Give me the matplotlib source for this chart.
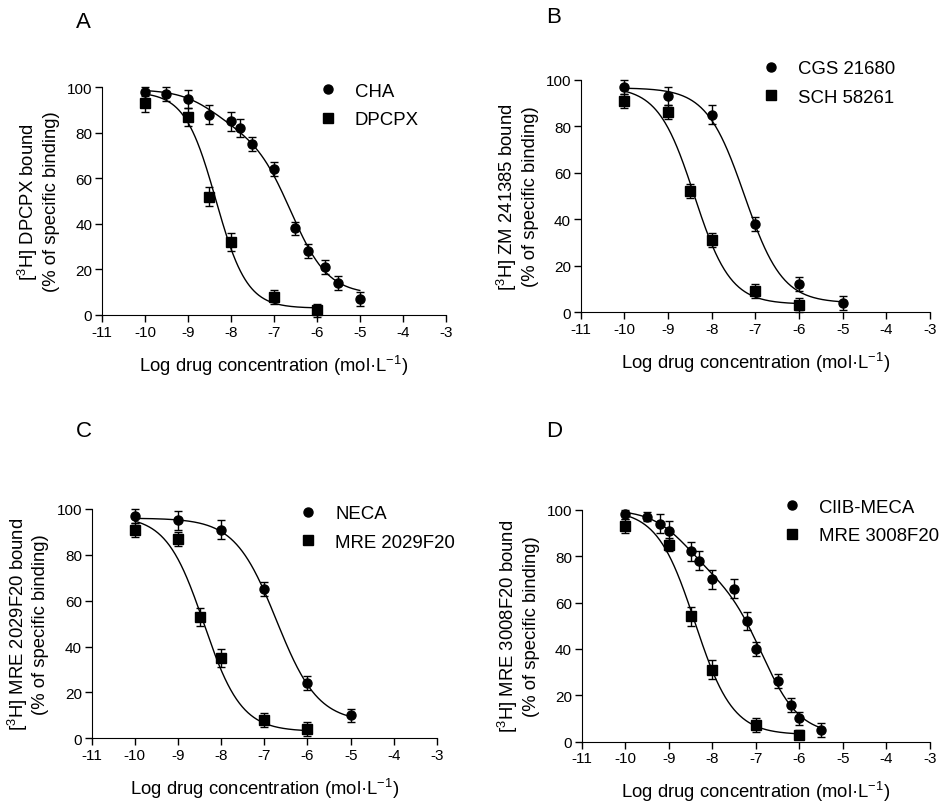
import numpy as np
import matplotlib.pyplot as plt

plt.rcParams['font.family'] = ['Liberation Sans', 'DejaVu Sans']
plt.rcParams['mathtext.default'] = 'regular'
plt.rcParams['axes.unicode_minus'] = False

# Panel A: [3H] DPCPX binding
a_cha_x = [-10, -9.5, -9, -8.5, -8, -7.8, -7.5, -7, -6.5, -6.2, -5.8, -5.5, -5]
a_cha_y = [98, 97, 95, 88, 85, 82, 75, 64, 38, 28, 21, 14, 7]
a_cha_err = [2, 3, 4, 4, 4, 4, 3, 3, 3, 3, 3, 3, 3]
a_dpcpx_x = [-10, -9, -8.5, -8, -7, -6]
a_dpcpx_y = [93, 87, 52, 32, 8, 2]
a_dpcpx_err = [4, 4, 4, 4, 3, 3]

# Panel B: [3H] ZM 241385 binding
b_cgs_x = [-10, -9, -8, -7, -6, -5]
b_cgs_y = [97, 93, 85, 38, 12, 4]
b_cgs_err = [3, 4, 4, 3, 3, 3]
b_sch_x = [-10, -9, -8.5, -8, -7, -6]
b_sch_y = [91, 86, 52, 31, 9, 3]
b_sch_err = [3, 3, 3, 3, 3, 3]

# Panel C: [3H] MRE 2029F20 binding
c_neca_x = [-10, -9, -8, -7, -6, -5]
c_neca_y = [97, 95, 91, 65, 24, 10]
c_neca_err = [3, 4, 4, 3, 3, 3]
c_mre_x = [-10, -9, -8.5, -8, -7, -6]
c_mre_y = [91, 87, 53, 35, 8, 4]
c_mre_err = [3, 3, 4, 4, 3, 3]

# Panel D: [3H] MRE 3008F20 binding
d_clib_x = [-10, -9.5, -9.2, -9, -8.5, -8.3, -8, -7.5, -7.2, -7, -6.5, -6.2, -6, -5.5]
d_clib_y = [98, 97, 94, 91, 82, 78, 70, 66, 52, 40, 26, 16, 10, 5]
d_clib_err = [2, 2, 4, 4, 4, 4, 4, 4, 4, 3, 3, 3, 3, 3]
d_mre_x = [-10, -9, -8.5, -8, -7, -6]
d_mre_y = [93, 85, 54, 31, 7, 3]
d_mre_err = [3, 3, 4, 4, 3, 2]

# fitted curve parameters: top, bottom, logIC50 high, logIC50 low, fraction high, hill
a_cha_fit = [99, 9, -8.4, -6.6, 0.2, 1.0]
a_dpcpx_fit = [98, 3, -8.35, -8.35, 1.0, 1.2]
b_cgs_fit = [96.5, 4, -7.25, -7.25, 1.0, 1.0]
b_sch_fit = [97, 3.5, -8.4, -8.4, 1.0, 1.05]
c_neca_fit = [96, 7, -6.72, -6.72, 1.0, 0.9]
c_mre_fit = [97, 3, -8.4, -8.4, 1.0, 1.0]
d_clib_fit = [100, 3, -8.6, -6.85, 0.3, 1.0]
d_mre_fit = [100, 3, -8.4, -8.4, 1.0, 1.0]


def competition_curve(x, fit):
    top, bottom, ic_high, ic_low, frac, hill = fit
    high = frac / (1 + 10 ** ((x - ic_high) * hill))
    low = (1 - frac) / (1 + 10 ** ((x - ic_low) * hill))
    return bottom + (top - bottom) * (high + low)


panels = [
    dict(letter="A", rect=[0.1083, 0.6065, 0.3649, 0.2836], letter_pos=(0.081, 0.985),
         ylabel="[$^3$H] DPCPX bound\n(% of specific binding)",
         legend_anchor=(0.630, 1.019),
         series=[("CHA", "o", a_cha_x, a_cha_y, a_cha_err, a_cha_fit),
                 ("DPCPX", "s", a_dpcpx_x, a_dpcpx_y, a_dpcpx_err, a_dpcpx_fit)]),
    dict(letter="B", rect=[0.6165, 0.6098, 0.3708, 0.2897], letter_pos=(0.580, 0.991),
         ylabel="[$^3$H] ZM 241385 bound\n(% of specific binding)",
         legend_anchor=(0.517, 1.083),
         series=[("CGS 21680", "o", b_cgs_x, b_cgs_y, b_cgs_err, b_cgs_fit),
                 ("SCH 58261", "s", b_sch_x, b_sch_y, b_sch_err, b_sch_fit)]),
    dict(letter="C", rect=[0.0973, 0.0793, 0.3666, 0.2856], letter_pos=(0.081, 0.476),
         ylabel="[$^3$H] MRE 2029F20 bound\n(% of specific binding)",
         legend_anchor=(0.600, 1.016),
         series=[("NECA", "o", c_neca_x, c_neca_y, c_neca_err, c_neca_fit),
                 ("MRE 2029F20", "s", c_mre_x, c_mre_y, c_mre_err, c_mre_fit)]),
    dict(letter="D", rect=[0.6175, 0.0751, 0.3697, 0.2889], letter_pos=(0.580, 0.476),
         ylabel="[$^3$H] MRE 3008F20 bound\n(% of specific binding)",
         legend_anchor=(0.578, 1.047),
         series=[("ClIB-MECA", "o", d_clib_x, d_clib_y, d_clib_err, d_clib_fit),
                 ("MRE 3008F20", "s", d_mre_x, d_mre_y, d_mre_err, d_mre_fit)]),
]

fig = plt.figure(figsize=(9.42, 8.03), dpi=100)

for panel in panels:
    ax = fig.add_axes(panel["rect"])
    for label, marker, x, y, err, fit in panel["series"]:
        xs = np.linspace(min(x), max(x), 300)
        ax.plot(xs, competition_curve(xs, fit), color="black", lw=1.0, clip_on=False)
        ax.errorbar(x, y, yerr=err, fmt=marker, color="black", ms=6.5, capsize=3,
                    elinewidth=1.0, capthick=1.0, clip_on=False, zorder=3, label=label)

    ax.set_xlim(-11, -3)
    ax.set_ylim(0, 100)
    ax.set_xticks(range(-11, -2))
    ax.set_yticks(range(0, 101, 20))
    for side in ("top", "right"):
        ax.spines[side].set_visible(False)
    ax.tick_params(labelsize=11, length=5, width=1.0, pad=2)
    ax.set_xlabel("Log drug concentration (mol·L$^{-1}$)", fontsize=13.3, labelpad=10)
    ax.set_ylabel(panel["ylabel"], fontsize=13.3, labelpad=5)

    handles, labels = ax.get_legend_handles_labels()
    handles = [h[0] for h in handles]
    ax.legend(handles, labels, loc="upper left", bbox_to_anchor=panel["legend_anchor"],
              frameon=False, fontsize=13.4, handlelength=1.0, handletextpad=0.95,
              labelspacing=0.6, borderpad=0, borderaxespad=0)

    fig.text(panel["letter_pos"][0], panel["letter_pos"][1], panel["letter"],
             fontsize=16, va="top", ha="left")

fig.savefig("out.png", dpi=100)
